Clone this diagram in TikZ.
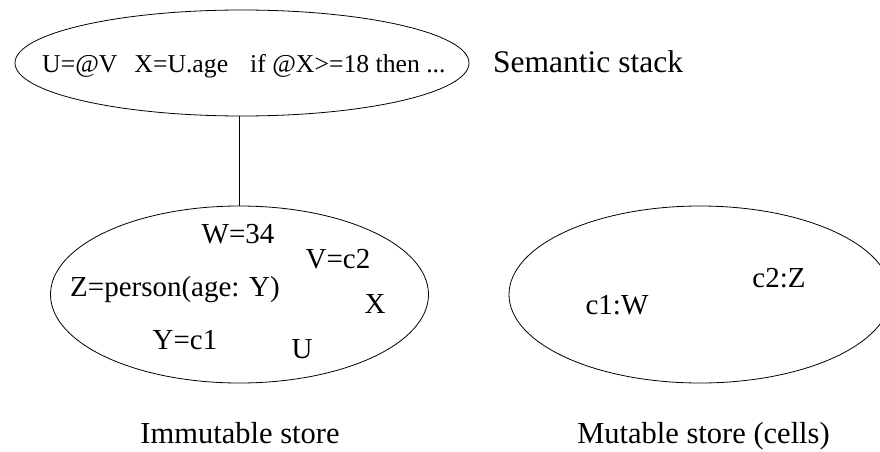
\documentclass[tikz,border=0pt]{standalone}
\usepackage{fontspec}
\setmainfont{Liberation Serif}
\usetikzlibrary{shapes.geometric}
\begin{document}
\begin{tikzpicture}[x=1pt,y=-1pt,
  store/.style={draw,ellipse,inner sep=0pt,line width=0.8pt},
  lbl/.style={font=\fontsize{29}{34}\selectfont,inner sep=0pt,anchor=base},
  caption/.style={font=\fontsize{30.5}{36}\selectfont,inner sep=0pt,anchor=base}]
\useasboundingbox (0,0) rectangle (880,452);
\clip (0,0) rectangle (880,452);
\node[store,minimum width=454pt,minimum height=106pt] (stack) at (242,63) {};
\node[font=\fontsize{25.7}{30}\selectfont,inner sep=0pt,anchor=base west] (stacktext) at (42,72)
  {U=@V\hspace{17pt}X=U.age\hspace{22pt}if @X>=18 then ...};
\node[store,minimum width=378pt,minimum height=177pt] (imm) at (239.5,294.5) {};
\node[store,minimum width=382pt,minimum height=177pt] (mut) at (700,294.5) {};
\draw[line width=0.8pt] (imm.north |- stack.south) -- (imm.north);
\node[caption,anchor=base west,font=\fontsize{31.5}{36}\selectfont] (sem) at (493,73) {Semantic stack};
\node[lbl] (w) at (238,243) {W=34};
\node[lbl] (v) at (338,268) {V=c2};
\node[lbl] (z) at (175,296) {Z=person(age: Y)};
\node[lbl] (x) at (375,313) {X};
\node[lbl] (y) at (185,349) {Y=c1};
\node[lbl] (u) at (302,358) {U};
\node[lbl] (c1) at (617,314) {c1:W};
\node[lbl] (c2) at (779,287) {c2:Z};
\node[caption] (immlbl) at (240,443) {Immutable store};
\node[caption] (mutlbl) at (703.5,443) {Mutable store (cells)};
\end{tikzpicture}
\end{document}
